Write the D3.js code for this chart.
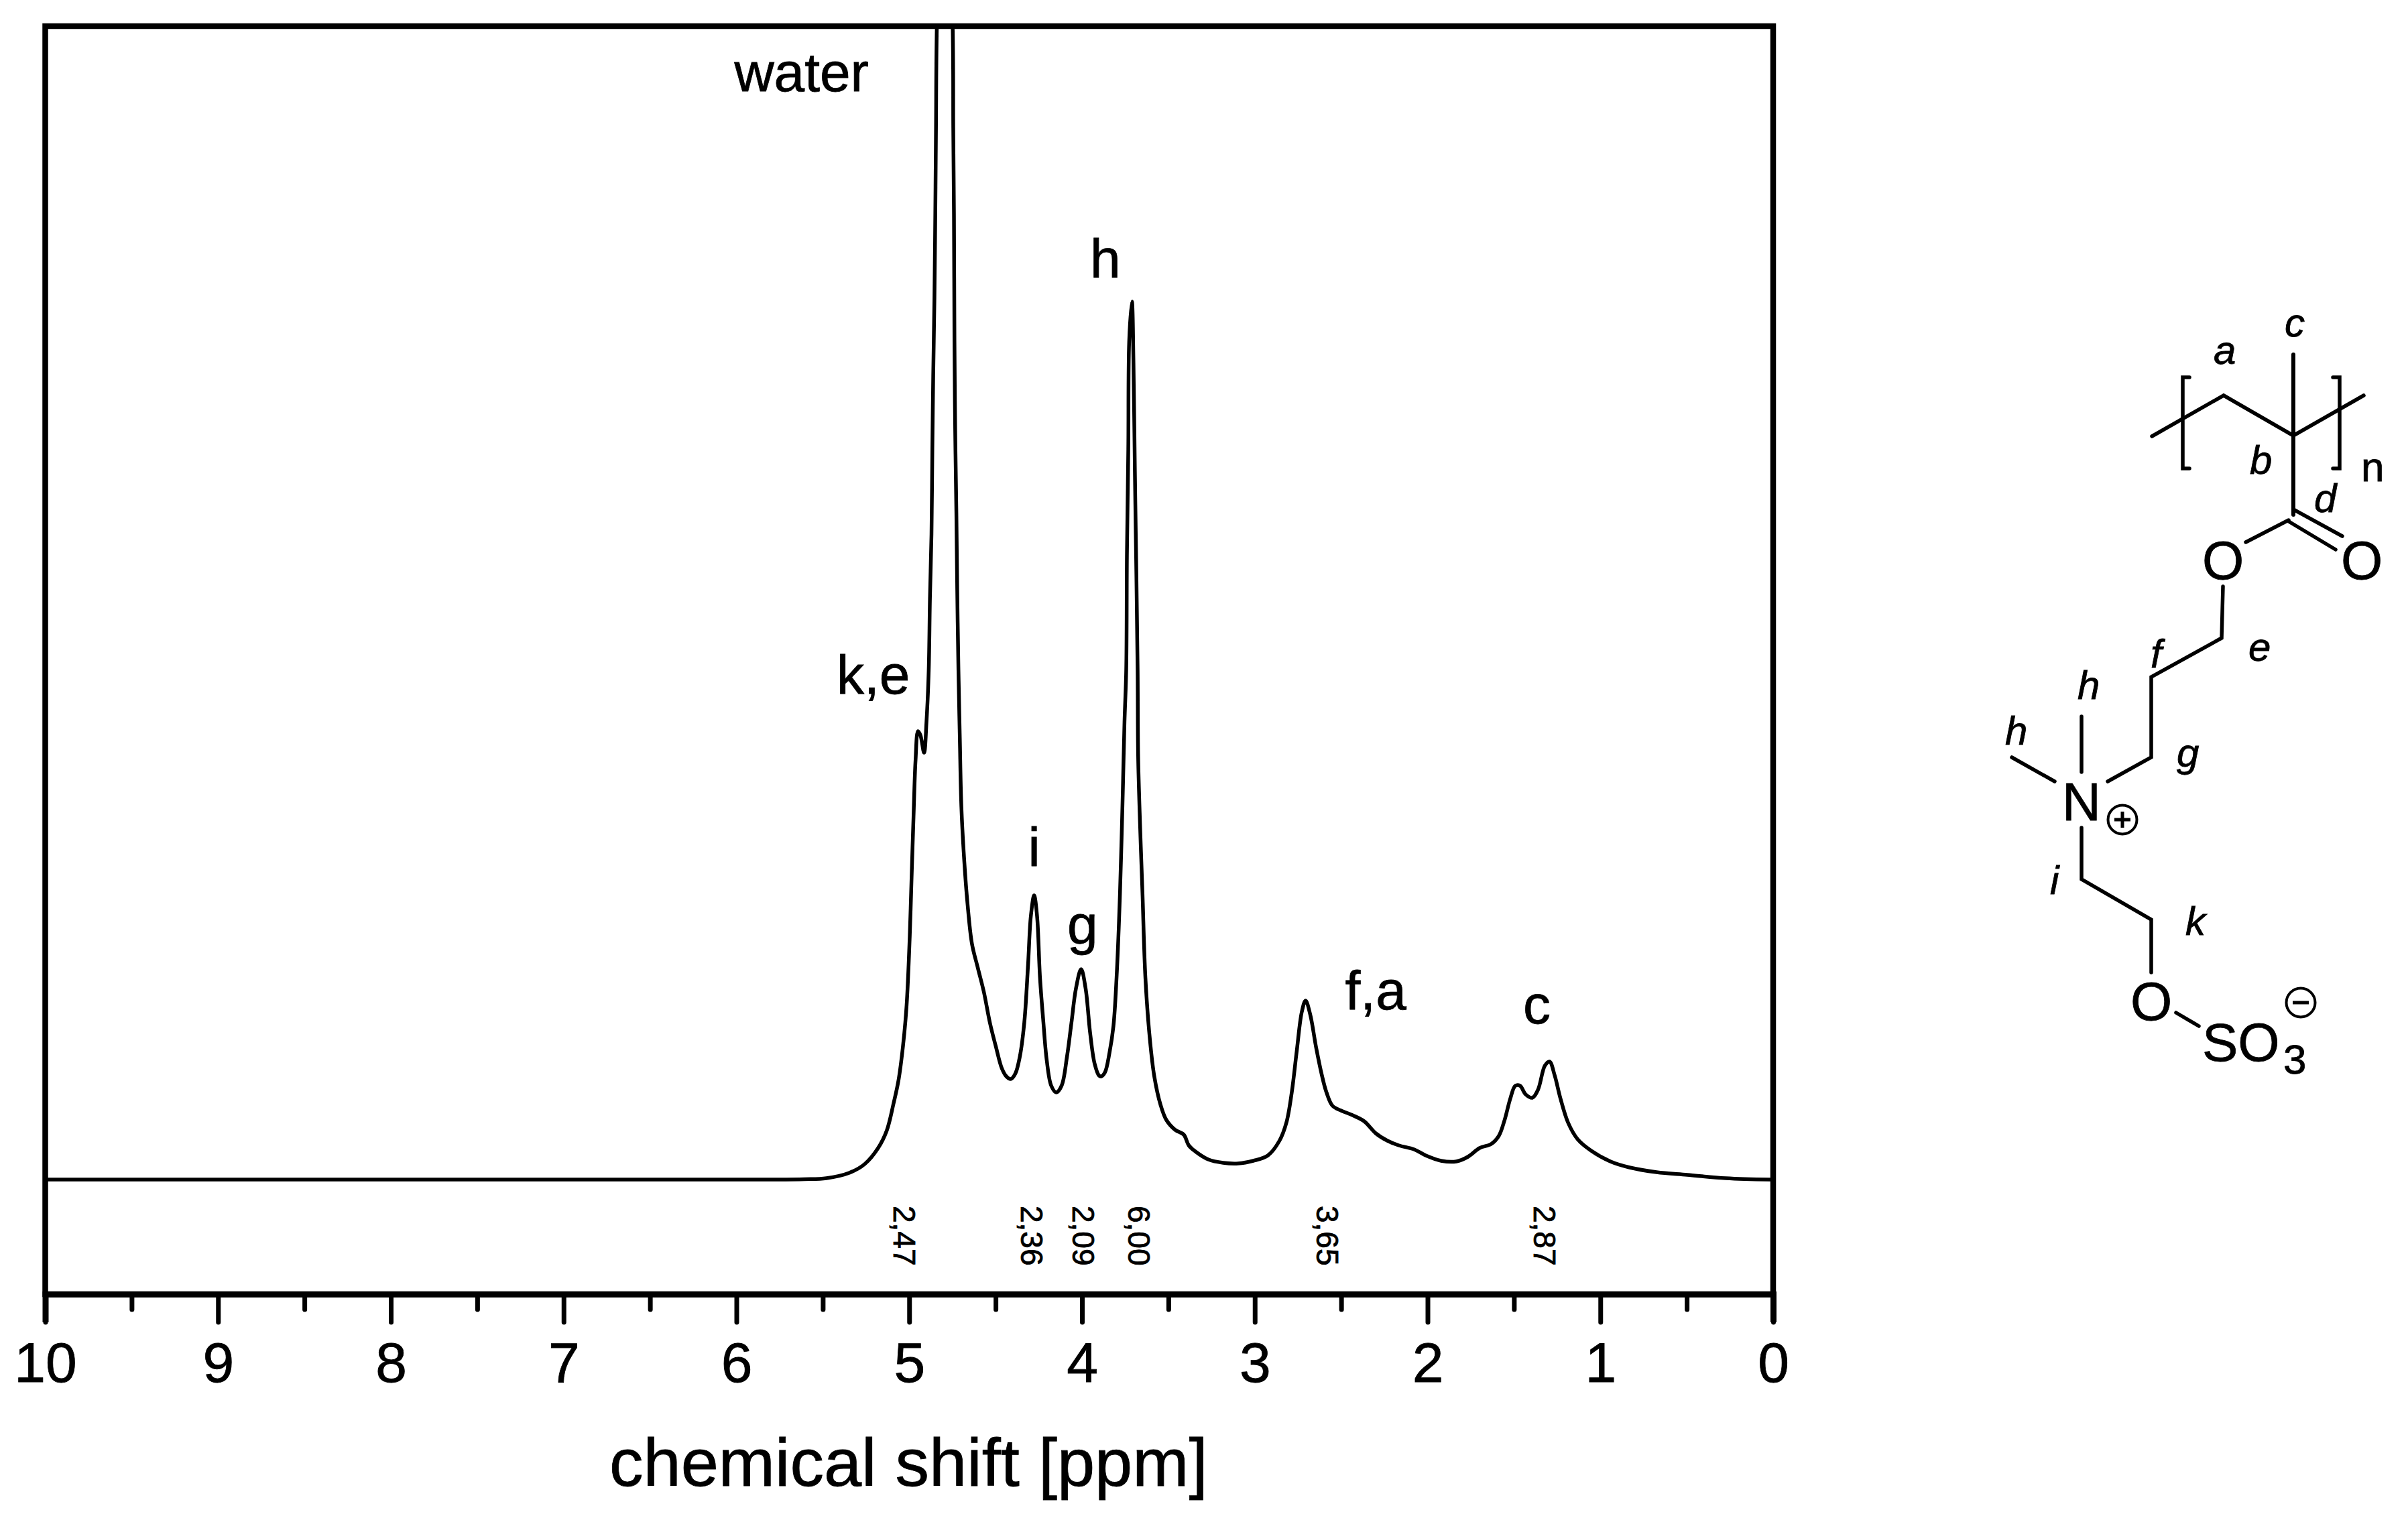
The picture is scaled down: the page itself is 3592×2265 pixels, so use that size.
<!DOCTYPE html>
<html>
<head>
<meta charset="utf-8">
<script src="https://cdn.jsdelivr.net/npm/d3@7"></script>
<style>
  html, body { margin: 0; padding: 0; background: #fff; }
  text { font-family: "Liberation Sans", Arial, sans-serif; fill: #000; stroke: #000; stroke-width: 0.8; }
</style>
</head>
<body>
<svg id="chart" width="3592" height="2265"></svg>
<script>
// spectrum: shift in ppm, intensity in arbitrary units
var shift = [10, 8, 6, 5.8, 5.607, 5.479, 5.347, 5.258, 5.18, 5.13, 5.091, 5.062, 5.036, 5.015, 4.997, 4.987, 4.975, 4.963, 4.949, 4.935, 4.914, 4.9, 4.887,
  4.88, 4.871, 4.866, 4.861, 4.854, 4.849, 4.845, 4.84, 4.795, 4.748, 4.745, 4.741, 4.738, 4.734, 4.727, 4.722, 4.715,
  4.707, 4.698, 4.681, 4.663, 4.637, 4.603, 4.568, 4.533, 4.499, 4.464, 4.438, 4.412, 4.386, 4.36, 4.334, 4.312, 4.296, 4.277,
  4.26, 4.243, 4.225, 4.204, 4.178, 4.149, 4.118, 4.087, 4.061, 4.035, 4.005, 3.979, 3.953, 3.927, 3.901, 3.888, 3.867, 3.841, 3.818, 3.798, 3.78, 3.766, 3.754, 3.744,
  3.74, 3.732, 3.727, 3.711, 3.702, 3.694, 3.685, 3.678, 3.675, 3.664, 3.65, 3.633, 3.607, 3.581, 3.546, 3.512, 3.46, 3.411, 3.382, 3.339, 3.269, 3.183, 3.096, 3.009,
  2.924, 2.857, 2.817, 2.786, 2.757, 2.728, 2.706, 2.679, 2.645, 2.612, 2.585, 2.55, 2.501, 2.434, 2.367, 2.3, 2.233, 2.167, 2.078, 2.011, 1.922, 1.833, 1.766, 1.699, 1.632, 1.588,
  1.554, 1.521, 1.492, 1.465, 1.432, 1.394, 1.361, 1.321, 1.294, 1.265, 1.231, 1.187, 1.131, 1.053, 0.942, 0.831, 0.675, 0.497, 0.274, 0.018, 0];
var intensity = [171, 171, 171, 171, 171.5, 173, 181, 194, 218, 244, 284, 319, 370, 431, 533, 615, 712, 798, 840, 834, 808, 854, 931,
  1038, 1134, 1261, 1370, 1485, 1612, 1740, 1892, 2300, 1886, 1740, 1612, 1421, 1293, 1166, 1051, 931,
  829, 727, 645, 584, 523, 487, 451, 405, 370, 337, 325, 321, 329, 354, 405, 492, 564, 595,
  564, 472, 411, 349, 311, 301, 311, 354, 405, 456, 485, 456, 390, 344, 326, 325, 331, 360, 400, 482, 599, 727, 854, 931,
  1102, 1261, 1421, 1481, 1389, 1229, 1070, 931, 803, 701, 599, 472, 380, 324, 283, 260, 245, 238, 222, 212, 201, 196, 195, 199,
  207, 229, 256, 301, 363, 421, 438, 417, 368, 327, 301, 281, 274, 267, 258, 240, 229, 222, 216, 207, 199, 198, 205, 218, 224, 236,
  260, 292, 311, 311, 298, 293, 305, 341, 347, 327, 292, 256, 231, 214, 198, 189, 182, 178, 173, 171, 171];

var majorTicks = [10, 9, 8, 7, 6, 5, 4, 3, 2, 1, 0];
var minorTicks = [9.5, 8.5, 7.5, 6.5, 5.5, 4.5, 3.5, 2.5, 1.5, 0.5];

var peakNames = ["water", "k,e", "i", "g", "h", "f,a", "c"];
var peakPpm = [5.623, 5.208, 4.277, 3.997, 3.865, 2.3, 1.368];
var peakHeight = [1795, 896, 639, 523, 1517, 425, 404];

var integralText = ["2,47", "2,36", "2,09", "6,00", "3,65", "2,87"];
var integralPpm = [5.09, 4.354, 4.056, 3.734, 2.644, 1.385];

var svg = d3.select("#chart");

var x = d3.scaleLinear().domain([10, 0]).range([67.5, 2645]);
var y = d3.scaleLinear().domain([0, 1892]).range([1931, 39]);

svg.append("clipPath").attr("id", "plotArea")
  .append("rect")
  .attr("x", x(10)).attr("y", y(1892))
  .attr("width", x(0) - x(10)).attr("height", y(0) - y(1892));

// frame
svg.append("rect")
  .attr("x", x(10)).attr("y", y(1892))
  .attr("width", x(0) - x(10)).attr("height", y(0) - y(1892))
  .attr("fill", "none").attr("stroke", "#000").attr("stroke-width", 8.5);

// the curve
var line = d3.line()
  .x(function(d) { return x(d[0]); })
  .y(function(d) { return y(d[1]); })
  .curve(d3.curveCatmullRom.alpha(0.5));

svg.append("path")
  .datum(d3.zip(shift, intensity))
  .attr("clip-path", "url(#plotArea)")
  .attr("fill", "none")
  .attr("stroke", "#000")
  .attr("stroke-width", 5.5)
  .attr("stroke-linejoin", "round")
  .attr("d", line);

// x axis, major ticks with labels and minor ticks without
var axisMajor = d3.axisBottom(x)
  .tickValues(majorTicks)
  .tickSize(42)
  .tickPadding(29)
  .tickFormat(d3.format("d"));
var axisMinor = d3.axisBottom(x)
  .tickValues(minorTicks)
  .tickSize(23)
  .tickFormat("");

var gMajor = svg.append("g").attr("transform", "translate(0," + y(0) + ")").call(axisMajor);
var gMinor = svg.append("g").attr("transform", "translate(0," + y(0) + ")").call(axisMinor);
gMajor.select(".domain").attr("stroke-width", 9);
gMinor.select(".domain").remove();
svg.selectAll(".tick line").attr("stroke", "#000").attr("stroke-width", 7).attr("stroke-linecap", "round");
gMajor.selectAll(".tick text")
  .attr("font-family", '"Liberation Sans", Arial, sans-serif')
  .attr("font-size", 84);

svg.append("text")
  .attr("x", 909).attr("y", 2217)
  .attr("font-size", 101)
  .text("chemical shift [ppm]");

// peak assignment letters
svg.selectAll("text.peak")
  .data(peakNames)
  .enter().append("text")
  .attr("class", "peak")
  .attr("x", function(d, i) { return x(peakPpm[i]); })
  .attr("y", function(d, i) { return y(peakHeight[i]); })
  .attr("text-anchor", "middle")
  .attr("font-size", 82)
  .text(String);

// integrals, rotated
svg.selectAll("text.integral")
  .data(integralText)
  .enter().append("text")
  .attr("class", "integral")
  .attr("transform", function(d, i) { return "translate(" + x(integralPpm[i]) + ",1799) rotate(90)"; })
  .attr("font-size", 46)
  .text(String);

// structure formula next to the plot
var mol = svg.append("g").attr("stroke-linecap", "round").attr("stroke-linejoin", "miter");

var bonds = [
  [[3210, 651], [3317, 590], [3421, 650], [3526, 590]],
  [[3266, 563], [3256, 563], [3256, 699], [3266, 699]],
  [[3480, 563], [3490, 563], [3490, 699], [3480, 699]],
  [[3421, 760], [3494, 800]],
  [[3414, 778], [3484, 820]],
  [[3414, 776], [3350, 809]],
  [[3316, 875], [3314, 952], [3209, 1010], [3209, 1130], [3144, 1166]],
  [[3105, 1069], [3105, 1152]],
  [[3001, 1130], [3065, 1166]],
  [[3105, 1235], [3105, 1312], [3209, 1372], [3209, 1451]],
  [[3246, 1511], [3280, 1531]]
];
var bondLine = d3.line();
mol.selectAll("path.bond")
  .data(bonds)
  .enter().append("path")
  .attr("class", "bond")
  .attr("d", bondLine)
  .attr("fill", "none")
  .attr("stroke", "#000")
  .attr("stroke-width", 5.5);

mol.append("path")
  .attr("d", bondLine([[3421, 529], [3421, 768]]))
  .attr("fill", "none").attr("stroke", "#000").attr("stroke-width", 6);

var atoms = [
  { t: "O", x: 3316, y: 864, a: "middle" },
  { t: "O", x: 3523, y: 864, a: "middle" },
  { t: "N", x: 3105, y: 1224, a: "middle" },
  { t: "O", x: 3209, y: 1522, a: "middle" },
  { t: "SO", x: 3285, y: 1583, a: "start" }
];
mol.selectAll("text.atom")
  .data(atoms)
  .enter().append("text")
  .attr("class", "atom")
  .attr("x", function(d) { return d.x; })
  .attr("y", function(d) { return d.y; })
  .attr("text-anchor", function(d) { return d.a; })
  .attr("font-size", 80)
  .text(function(d) { return d.t; });

mol.append("text").attr("x", 3406).attr("y", 1602).attr("font-size", 62).text("3");
mol.append("text").attr("x", 3522).attr("y", 718).attr("font-size", 62).text("n");

var sites = [
  { t: "a", x: 3302, y: 543 },
  { t: "c", x: 3408, y: 502 },
  { t: "b", x: 3356, y: 707 },
  { t: "d", x: 3452, y: 764 },
  { t: "e", x: 3354, y: 986 },
  { t: "f", x: 3208, y: 996 },
  { t: "h", x: 3099, y: 1043 },
  { t: "h", x: 2991, y: 1111 },
  { t: "g", x: 3247, y: 1144 },
  { t: "i", x: 3058, y: 1334 },
  { t: "k", x: 3260, y: 1395 }
];
mol.selectAll("text.site")
  .data(sites)
  .enter().append("text")
  .attr("class", "site")
  .attr("x", function(d) { return d.x; })
  .attr("y", function(d) { return d.y; })
  .attr("font-size", 60)
  .attr("font-style", "italic")
  .text(function(d) { return d.t; });

// charges
var charges = [
  { cx: 3166, cy: 1223, plus: true },
  { cx: 3432, cy: 1496, plus: false }
];
charges.forEach(function(c) {
  mol.append("circle")
    .attr("cx", c.cx).attr("cy", c.cy).attr("r", 21.5)
    .attr("fill", "none").attr("stroke", "#000").attr("stroke-width", 4);
  mol.append("line")
    .attr("x1", c.cx - 12).attr("x2", c.cx + 12).attr("y1", c.cy).attr("y2", c.cy)
    .attr("stroke", "#000").attr("stroke-width", 5).attr("stroke-linecap", "butt");
  if (c.plus) {
    mol.append("line")
      .attr("x1", c.cx).attr("x2", c.cx).attr("y1", c.cy - 12).attr("y2", c.cy + 12)
      .attr("stroke", "#000").attr("stroke-width", 5).attr("stroke-linecap", "butt");
  }
});
</script>
</body>
</html>
